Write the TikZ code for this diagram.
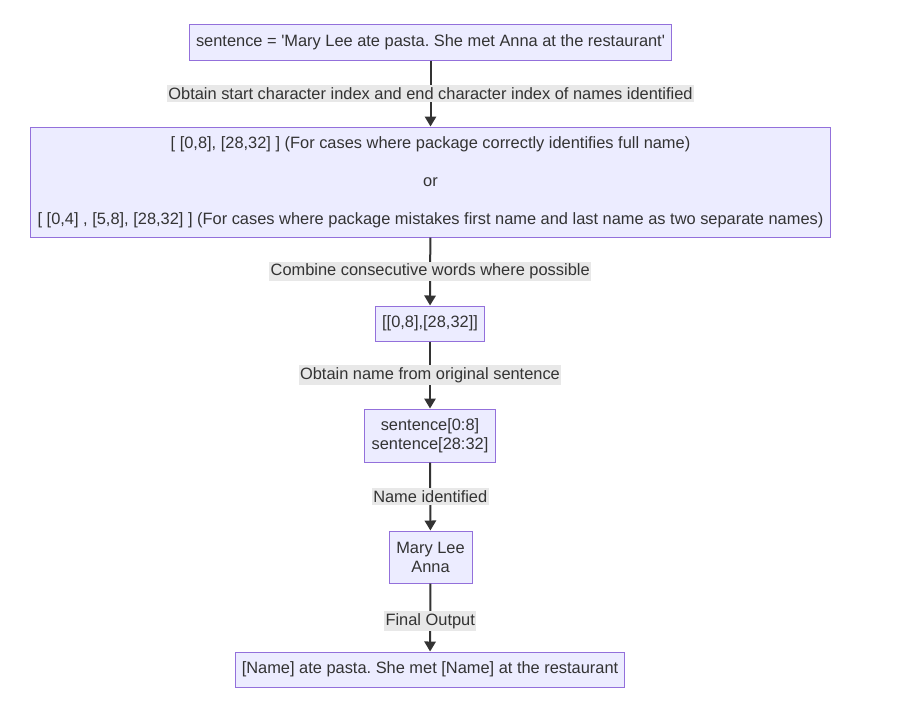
\documentclass[tikz,border=0pt]{standalone}
\usepackage{fontspec}
\setmainfont{Liberation Sans}
\frenchspacing
\usepackage{tikz}
\usetikzlibrary{arrows.meta}
\definecolor{boxfill}{HTML}{ECECFF}
\definecolor{boxline}{HTML}{9370DB}
\definecolor{ink}{HTML}{333333}
\definecolor{labelbg}{HTML}{E8E8E8}
\tikzset{
  fnode/.style={rectangle,draw=boxline,fill=boxfill,text=ink,line width=0.75pt,
    inner xsep=5pt,align=center,font=\fontsize{12.3}{14.25}\selectfont},
  fedge/.style={-{Triangle[length=7.5pt,width=8.5pt]},line width=1.5pt,color=ink},
  elabel/.style={fill=labelbg,text=ink,inner xsep=1pt,inner ysep=1.5pt,
    font=\fontsize{12.3}{14.25}\selectfont},
}
\begin{document}
\begin{tikzpicture}[x=0.75pt,y=-0.75pt]
  \useasboundingbox (0,0) rectangle (906,703);
  \node[fnode,minimum height=27pt] (sent) at (430.5,42)
    {sentence = \textquotesingle Mary Lee ate pasta. She met Anna at the restaurant\textquotesingle};
  \node[fnode,minimum height=82.5pt] (idx) at (430.5,182)
    {[ [0,8], [28,32] ] (For cases where package correctly identifies full name)\\[14.25pt]
     or\\[14.25pt]
     [ [0,4] , [5,8], [28,32] ] (For cases where package mistakes first name and last name as two separate names)};
  \node[fnode,minimum height=26.25pt] (merged) at (430,323.5){[[0,8],[28,32]]};
  \node[fnode,minimum height=39.75pt] (slice) at (430,435.5){sentence[0:8]\\sentence[28:32]};
  \node[fnode,minimum height=39pt,minimum width=62.25pt] (names) at (430.5,557){Mary Lee\\Anna};
  \node[fnode,minimum height=26.25pt] (out) at (430,669.5){[Name] ate pasta. She met [Name] at the restaurant};
  \draw[fedge] (sent)--node[elabel]{Obtain start character index and end character index of names identified}(idx);
  \draw[fedge] (idx)--node[elabel]{Combine consecutive words where possible}(merged);
  \draw[fedge] (merged)--node[elabel]{Obtain name from original sentence}(slice);
  \draw[fedge] (slice)--node[elabel]{Name identified}(names);
  \draw[fedge] (names)--node[elabel,pos=0.55]{Final Output}(out);
\end{tikzpicture}
\end{document}
